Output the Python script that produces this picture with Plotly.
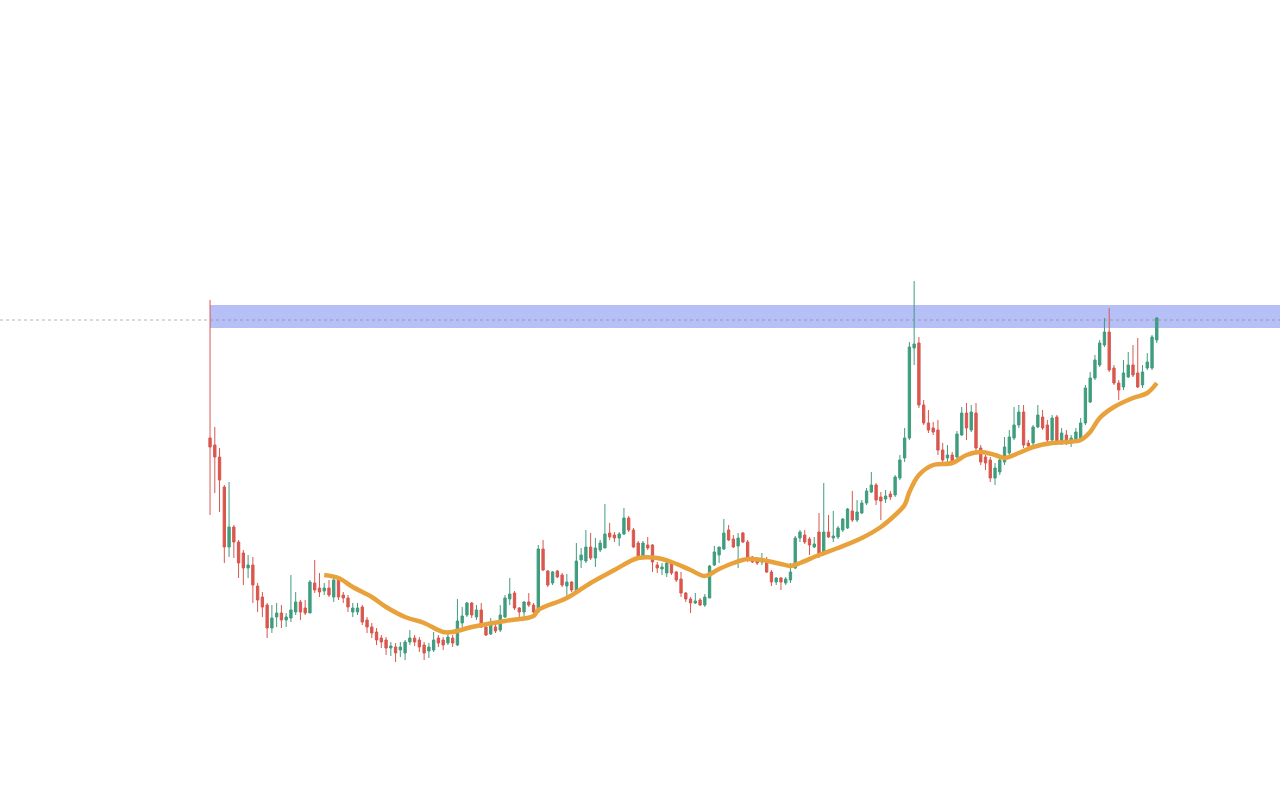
import plotly.graph_objects as go

# candle index (one per bar) and OHLC values
opens = [362, 355, 343, 313, 253, 273, 258, 247, 232, 235, 214, 203, 195, 172, 183, 187, 180, 182, 188, 198,
         192, 187, 217, 212, 209, 212, 203, 220, 205, 202, 188, 188, 193, 180, 173, 168, 162, 160, 152, 153,
         150, 147, 158, 162, 160, 155, 149, 150, 162, 160, 157, 162, 155, 177, 185, 197, 183, 190, 173, 166,
         173, 170, 183, 201, 207, 192, 188, 198, 195, 188, 251, 229, 217, 229, 225, 214, 218, 209, 240, 239,
         253, 242, 250, 252, 267, 265, 262, 266, 282, 270, 257, 243, 255, 255, 235, 231, 227, 238, 228, 221,
         207, 201, 197, 200, 195, 202, 235, 245, 251, 270, 261, 254, 267, 258, 243, 241, 238, 240, 228, 218,
         222, 217, 220, 232, 262, 265, 261, 253, 268, 248, 268, 262, 263, 270, 272, 289, 280, 287, 297, 308,
         315, 303, 301, 306, 305, 322, 342, 362, 452, 457, 395, 377, 372, 370, 350, 342, 345, 343, 365, 387,
         370, 387, 352, 343, 340, 322, 328, 338, 347, 362, 375, 388, 357, 357, 373, 383, 375, 360, 383, 358,
         365, 359, 360, 362, 377, 398, 422, 435, 455, 468, 432, 417, 413, 423, 435, 427, 415, 432, 432, 460]
highs = [500, 373, 352, 315, 318, 275, 260, 250, 245, 243, 217, 208, 197, 195, 197, 195, 187, 225, 208, 200,
         200, 220, 240, 227, 217, 220, 223, 223, 208, 205, 197, 197, 195, 183, 177, 172, 165, 163, 158, 157,
         158, 160, 170, 165, 163, 158, 157, 168, 165, 163, 167, 165, 201, 193, 198, 198, 195, 197, 175, 182,
         178, 195, 205, 222, 209, 193, 199, 207, 197, 255, 260, 230, 229, 230, 227, 226, 219, 257, 252, 270,
         267, 262, 260, 296, 277, 268, 268, 292, 284, 272, 259, 259, 263, 256, 238, 237, 239, 239, 229, 228,
         208, 203, 207, 202, 206, 235, 254, 253, 281, 275, 265, 267, 268, 260, 244, 243, 247, 243, 230, 223,
         223, 223, 237, 264, 270, 270, 263, 263, 287, 317, 285, 289, 274, 282, 292, 309, 300, 300, 312, 328,
         317, 308, 310, 309, 325, 345, 372, 458, 519, 463, 400, 390, 378, 380, 357, 355, 348, 369, 393, 397,
         395, 397, 355, 345, 343, 337, 345, 363, 370, 393, 395, 395, 360, 375, 395, 390, 380, 385, 385, 372,
         370, 365, 372, 382, 415, 428, 445, 460, 482, 492, 435, 420, 440, 448, 455, 462, 435, 447, 465, 483]
lows = [285, 307, 288, 237, 243, 242, 222, 215, 222, 197, 188, 183, 162, 167, 173, 172, 173, 178, 185, 180,
        185, 187, 207, 203, 205, 203, 198, 200, 197, 188, 183, 185, 175, 167, 162, 155, 152, 145, 144, 138,
        143, 140, 155, 154, 148, 140, 142, 148, 153, 150, 155, 153, 154, 173, 183, 182, 180, 172, 164, 165,
        167, 168, 182, 195, 190, 183, 181, 193, 187, 187, 229, 213, 215, 222, 213, 202, 208, 208, 232, 237,
        240, 233, 248, 252, 260, 258, 254, 265, 268, 252, 242, 242, 250, 228, 227, 225, 223, 225, 218, 203,
        198, 187, 196, 194, 193, 202, 234, 237, 250, 259, 252, 232, 257, 238, 237, 235, 235, 227, 214, 215,
        210, 215, 217, 231, 258, 256, 245, 252, 242, 247, 262, 258, 261, 268, 271, 278, 278, 286, 295, 307,
        295, 280, 297, 300, 303, 320, 338, 360, 435, 392, 375, 367, 365, 345, 338, 338, 335, 342, 364, 360,
        368, 348, 335, 330, 318, 315, 325, 335, 342, 360, 372, 352, 350, 352, 372, 370, 355, 358, 355, 355,
        355, 353, 357, 360, 375, 397, 420, 433, 453, 428, 415, 400, 410, 422, 423, 412, 412, 430, 430, 457]
closes = [353, 343, 320, 253, 273, 258, 237, 232, 235, 215, 200, 193, 172, 182, 187, 180, 183, 190, 198, 188,
          187, 218, 210, 208, 212, 205, 220, 203, 202, 193, 192, 192, 178, 173, 167, 160, 158, 152, 154, 147,
          153, 158, 162, 158, 153, 147, 153, 160, 157, 155, 163, 157, 179, 184, 197, 185, 190, 173, 165, 175,
          169, 185, 202, 206, 192, 188, 198, 195, 188, 251, 230, 215, 228, 223, 215, 218, 210, 239, 245, 253,
          242, 252, 257, 266, 263, 262, 266, 282, 270, 253, 243, 257, 252, 238, 232, 233, 237, 227, 220, 207,
          201, 197, 199, 195, 203, 234, 248, 253, 267, 260, 253, 262, 258, 240, 238, 237, 241, 228, 218, 222,
          218, 221, 228, 262, 268, 258, 255, 256, 245, 268, 263, 264, 272, 281, 291, 280, 288, 297, 309, 315,
          300, 299, 304, 303, 323, 340, 362, 453, 456, 395, 377, 370, 368, 350, 340, 345, 338, 366, 387, 372,
          388, 352, 338, 337, 322, 332, 340, 353, 363, 375, 388, 355, 354, 373, 385, 372, 360, 382, 358, 367,
          358, 362, 368, 377, 412, 422, 440, 457, 468, 430, 417, 410, 427, 435, 425, 413, 428, 438, 463, 482]
bars = list(range(len(closes)))

# moving average, read at a few bars
ma_bars = [24, 27, 30, 34, 37, 41, 45, 49, 51, 55, 62, 68, 69, 75, 80, 85, 88, 90, 94, 97,
           101, 104, 107, 110, 113, 116, 120, 122, 124, 128, 132, 137, 141, 144, 146, 147, 149, 152, 156, 159,
           162, 165, 167, 170, 173, 177, 180, 183, 185, 187, 190, 194, 197, 199]
ma_vals = [225, 222, 213, 203, 193, 183, 177, 168, 168, 173, 179, 184, 190, 202, 217, 230, 238, 242, 242, 238,
           230, 224, 231, 237, 241, 240, 236, 234, 237, 245, 252, 262, 273, 285, 295, 308, 325, 335, 337, 345,
           348, 345, 342, 347, 353, 357, 358, 360, 368, 382, 393, 402, 407, 417]

# resistance zone and level
zone_low, zone_high = 472, 495
level = 480

fig = go.Figure()

fig.add_trace(go.Candlestick(
    x=bars, open=opens, high=highs, low=lows, close=closes,
    increasing=dict(line=dict(color="#3f9d7f", width=1), fillcolor="#3f9d7f"),
    decreasing=dict(line=dict(color="#d9574e", width=1), fillcolor="#d9574e"),
    whiskerwidth=0,
    hoverinfo="skip",
))

fig.add_trace(go.Scatter(
    x=ma_bars, y=ma_vals, mode="lines",
    line=dict(color="#e9a23b", width=4.5, shape="spline", smoothing=1.0),
    hoverinfo="skip",
))

# blue zone starting at the first bar
fig.add_shape(type="rect", xref="x", yref="y", x0=bars[0], x1=240, y0=zone_low, y1=zone_high,
              fillcolor="rgba(110,130,240,0.5)", line=dict(width=0), layer="below")
# dotted level line across the whole chart
fig.add_shape(type="line", xref="paper", yref="y", x0=0, x1=1, y0=level, y1=level,
              line=dict(color="rgba(130,130,130,0.6)", width=1, dash="dot"), layer="above")

fig.update_layout(
    width=1280, height=789,
    margin=dict(l=0, r=0, t=0, b=0),
    paper_bgcolor="white", plot_bgcolor="white",
    showlegend=False,
    hovermode=False,
    xaxis=dict(range=[-44.15, 224.9], visible=False, rangeslider=dict(visible=False), fixedrange=True),
    yaxis=dict(range=[11, 800], visible=False, fixedrange=True),
)

# page has a default 8px body margin; drop it so the chart fills the window
fig.write_html(
    "out.html",
    config={"displayModeBar": False},
    post_script="document.body.style.margin='0';document.body.style.overflow='hidden';",
)
